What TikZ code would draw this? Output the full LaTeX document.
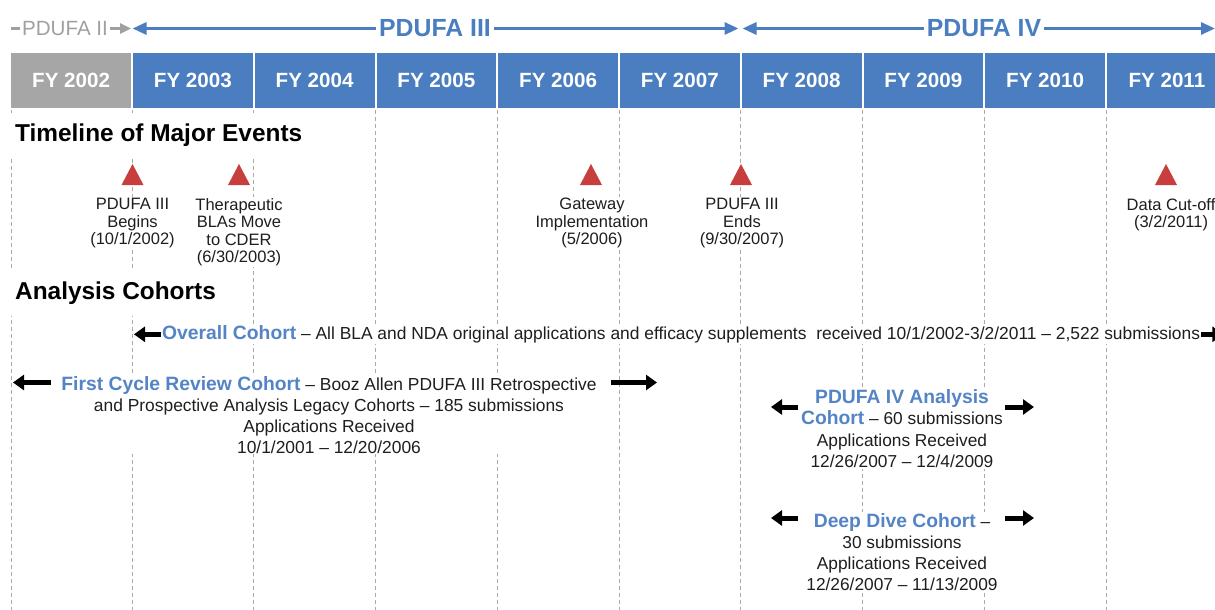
\documentclass[tikz,border=0pt]{standalone}
\usepackage{fontspec}
\setmainfont{Liberation Sans}
\usetikzlibrary{arrows.meta}
\definecolor{boxblue}{RGB}{74,126,192}
\definecolor{boxgray}{RGB}{166,166,166}
\definecolor{cblue}{RGB}{84,132,198}
\definecolor{evred}{RGB}{200,62,60}
\definecolor{gridgray}{RGB}{170,170,170}
\definecolor{txt}{RGB}{30,30,30}
\definecolor{pgray}{RGB}{160,160,160}
\newcommand{\fs}[2]{\fontsize{#1}{#2}\selectfont}
\newcommand{\cohortname}[1]{{\fs{19.3}{21}\bfseries\color{cblue}#1}}
\begin{document}
\begin{tikzpicture}[x=1pt,y=-1pt,
  fybox/.style={fill=boxblue, minimum width=119.75pt, minimum height=55pt, inner sep=0pt, text=white, font=\fs{20.6}{24}\bfseries},
  gridline/.style={gridgray, line width=0.9pt, dash pattern=on 4pt off 3pt},
  heading/.style={fill=white, anchor=west, inner xsep=6pt, inner ysep=0pt, minimum height=44pt, font=\fs{24.4}{28}\bfseries, text=black},
  phase/.style={inner sep=2.5pt, font=\fs{24.8}{28}\bfseries, text=boxblue},
  phasearrow/.style={boxblue, line width=3pt},
  evlabel/.style={fill=white, align=center, anchor=north, inner sep=1pt, font=\fs{16.5}{17.5}, text=txt},
  cohort/.style={fill=white, align=center, anchor=north, inner sep=1pt, font=\fs{17.3}{21.5}, text=txt},
  blk/.style={black, line width=5pt, -{Triangle[length=11pt,width=15pt]}},
]
\useasboundingbox (0,0) rectangle (1215,610);
\clip (0,0) rectangle (1215,610);

% grid lines
\foreach \gx in {11.75,132,253.75,375.5,497.25,619,740.75,862.5,984.25,1106}
  \draw[gridline] (\gx,110) -- (\gx,610);

% fiscal year boxes
\node[fybox, fill=boxgray] (fy0) at (71.125,80.5) {FY 2002};
\foreach \i in {1,...,9} {
  \pgfmathsetmacro\cx{10.25+121.75*\i+60.875}
  \pgfmathtruncatemacro\yr{2002+\i}
  \node[fybox] (fy\i) at (\cx,80.5) {FY \yr};
}

% top PDUFA phases
\node[font=\fs{20.6}{24}, text=pgray, inner sep=2pt] (p2) at (65,28.5) {PDUFA II};
\coordinate (p2l) at (11,28.5);
\coordinate (p2r) at (131,28.5);
\draw[pgray, line width=2.5pt] (p2l) -- (p2.west);
\draw[pgray, line width=2.5pt, -{Triangle[length=11pt,width=10pt]}] (p2.east) -- (p2r);

\node[phase] (p3) at (435,28.5) {PDUFA III};
\node[phase] (p4) at (984,28.5) {PDUFA IV};
\coordinate (a3s) at (132.5,28.5);
\coordinate (a3e) at (738.5,28.5);
\coordinate (a4s) at (742.5,28.5);
\coordinate (a4e) at (1215,28.5);
\draw[phasearrow, {Triangle[length=14pt,width=12pt]}-] (a3s) -- (p3.west);
\draw[phasearrow, -{Triangle[length=14pt,width=12pt]}] (p3.east) -- (a3e);
\draw[phasearrow, {Triangle[length=14pt,width=12pt]}-] (a4s) -- (p4.west);
\draw[phasearrow, -{Triangle[length=14pt,width=12pt]}] (p4.east) -- (a4e);

% timeline heading
\node[heading] (h1) at (9,135) {Timeline of Major Events};

% event markers
\foreach \ex in {132.5,239,591,741,1166}
  \fill[evred] (\ex-11,185) -- (\ex+11,185) -- (\ex,164) -- cycle;

\node[evlabel] (e1) at (132.5,197) {PDUFA III\\Begins\\(10/1/2002)};
\node[evlabel] (e2) at (239,197) {Therapeutic\\BLAs Move\\to CDER\\(6/30/2003)};
\node[evlabel] (e3) at (592,197) {Gateway\\Implementation\\(5/2006)};
\node[evlabel] (e4) at (742,197) {PDUFA III\\Ends\\(9/30/2007)};
\node[evlabel] (e5) at (1171,197) {Data Cut-off\\(3/2/2011)};

% analysis cohorts heading
\node[heading, minimum height=46pt] (h2) at (9,293) {Analysis Cohorts};

% overall cohort
\node[fill=white, anchor=base west, inner sep=1pt, font=\fs{17.4}{20}, text=txt] (oc) at (161,339.5)
  {\cohortname{Overall Cohort} – All BLA and NDA original applications and efficacy supplements\hspace{5pt} received 10/1/2002-3/2/2011 – 2,522 submissions};
\path (oc.west) ++(-27,0) coordinate (ocL);
\path (oc.east) ++(22,0) coordinate (ocR);
\draw[blk] (oc.west) -- (ocL);
\draw[blk] (oc.east) -- (ocR);

% first cycle review cohort
\node[cohort, font=\fs{17.4}{21}] (fc) at (329,375)
  {\cohortname{First Cycle Review Cohort} – Booz Allen PDUFA III Retrospective\\and Prospective Analysis Legacy Cohorts – 185 submissions\\Applications Received\\10/1/2001 – 12/20/2006};
\coordinate (fcL0) at (51,382.5);
\coordinate (fcL) at (13,382.5);
\coordinate (fcR0) at (611,382.5);
\coordinate (fcR) at (657,382.5);
\draw[blk] (fcL0) -- (fcL);
\draw[blk] (fcR0) -- (fcR);

% PDUFA IV analysis cohort
\node[cohort] (pc) at (902,388)
  {\cohortname{PDUFA IV Analysis}\\\cohortname{Cohort} – 60 submissions\\Applications Received\\12/26/2007 – 12/4/2009};
\coordinate (pcL0) at (798,407);
\coordinate (pcL) at (771,407);
\coordinate (pcR0) at (1005,407);
\coordinate (pcR) at (1034,407);
\draw[blk] (pcL0) -- (pcL);
\draw[blk] (pcR0) -- (pcR);

% deep dive cohort
\node[cohort, font=\fs{17.3}{21}] (dd) at (902,512)
  {\cohortname{Deep Dive Cohort} –\\30 submissions\\Applications Received\\12/26/2007 – 11/13/2009};
\coordinate (ddL0) at (798,518);
\coordinate (ddL) at (771,518);
\coordinate (ddR0) at (1005,518);
\coordinate (ddR) at (1034,518);
\draw[blk] (ddL0) -- (ddL);
\draw[blk] (ddR0) -- (ddR);
\end{tikzpicture}
\end{document}
